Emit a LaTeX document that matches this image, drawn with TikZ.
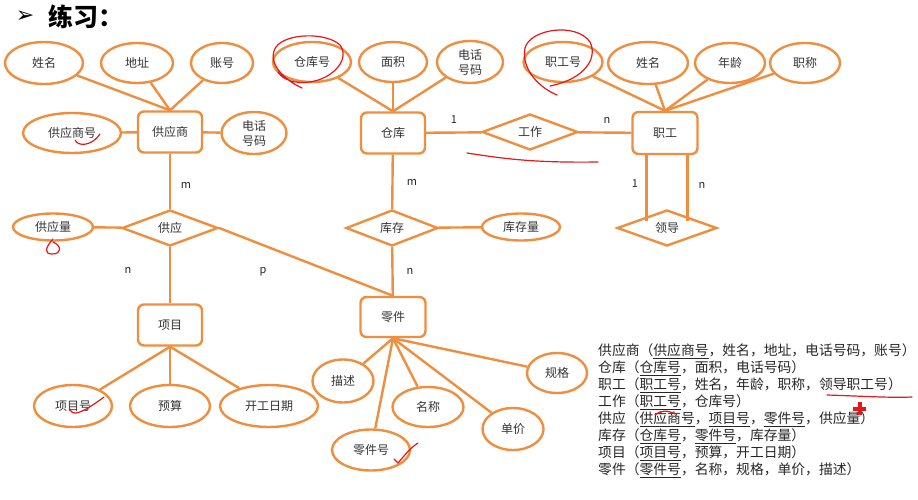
\documentclass[tikz,border=0pt]{standalone}
\usepackage{fontspec}
\setmainfont{Noto Sans CJK SC}
\newfontfamily\symfont{DejaVu Sans}
\usepackage{xcolor}
\usepackage{tikz}
\usetikzlibrary{shapes.geometric}
\definecolor{erorange}{RGB}{238,142,62}
\definecolor{penred}{RGB}{228,24,24}

\begin{document}
\begin{tikzpicture}[x=1pt,y=-1pt,
  attr/.style={ellipse,draw=erorange,line width=2.4pt,inner sep=0pt,minimum width=#1,minimum height=40pt,
    font=\fontsize{12}{13}\selectfont,text=black!80},
  attr/.default=70pt,
  ent/.style={rectangle,rounded corners=6pt,draw=erorange,line width=2.4pt,inner sep=0pt,
    minimum width=64pt,minimum height=41pt,font=\fontsize{12}{13}\selectfont,text=black!80},
  rel/.style={diamond,draw=erorange,line width=2.4pt,inner sep=0pt,minimum width=#1,minimum height=36pt,
    font=\fontsize{12}{13}\selectfont,text=black!80},
  rel/.default=96pt,
  link/.style={draw=erorange,line width=2.4pt},
  card/.style={font=\fontsize{11}{12}\selectfont,text=black!85},
  note/.style={anchor=west,inner sep=0pt,font=\fontsize{13.8}{16}\selectfont,text=black!85},
  pen/.style={draw=penred,line width=1.2pt,line cap=round,line join=round}]
\useasboundingbox (0,0) rectangle (918,500);
  \node[inner sep=0pt,font=\symfont\fontsize{22}{23}\selectfont\bfseries] (bullet) at (25,17) {➢};
  \node[anchor=west,inner sep=0pt,font=\fontsize{25}{26}\selectfont\bfseries] (title) at (48,17) {练习：};
  % supplier
  \node[ent] (supplier) at (170,132) {供应商};
  \node[attr=78pt,minimum height=42pt] (sname) at (44,63) {姓名};
  \node[attr=72pt] (saddr) at (137,63) {地址};
  \node[attr=62pt] (sacct) at (222,63) {账号};
  \node[attr=98pt] (sno) at (72,133) {供应商号};
  \node[attr=65pt,minimum height=42pt,align=center,font=\fontsize{12}{15}\selectfont] (stel) at (254,133) {电话\\号码};
  \draw[link] (sname) -- (supplier.north);
  \draw[link] (saddr) -- (supplier.north);
  \draw[link] (sacct) -- (supplier.north);
  \draw[link] (sno) -- (supplier);
  \draw[link] (supplier) -- (stel);
  \node[rel] (supply) at (170,228) {供应};
  \node[attr=80pt,minimum height=27pt] (sqty) at (53,227) {供应量};
  \draw[link] (supplier) -- (supply);
  \draw[link] (sqty) -- (supply);
  % project
  \node[ent] (project) at (170,325) {项目};
  \node[attr=78pt,minimum height=42pt] (pno) at (73,406) {项目号};
  \node[attr=80pt,minimum height=42pt] (budget) at (170,406) {预算};
  \node[attr=98pt,minimum height=42pt] (pdate) at (269,406) {开工日期};
  \draw[link] (supply) -- (project);
  \draw[link] (project.south) -- (pno);
  \draw[link] (project.south) -- (budget);
  \draw[link] (project.south) -- (pdate);
  % warehouse
  \node[ent] (house) at (393,133) {仓库};
  \node[attr=78pt] (hno) at (312,62) {仓库号};
  \node[attr=68pt] (harea) at (393,62) {面积};
  \node[attr=66pt,minimum height=42pt,align=center,font=\fontsize{12}{15}\selectfont] (htel) at (470,62) {电话\\号码};
  \draw[link] (hno) -- (house.north);
  \draw[link] (harea) -- (house.north);
  \draw[link] (htel) -- (house.north);
  \node[rel=92pt] (stock) at (392,228) {库存};
  \node[attr=78pt,minimum height=27pt] (sqnt) at (521,227) {库存量};
  \draw[link] (house) -- (stock);
  \draw[link] (stock) -- (sqnt);
  % part
  \node[ent,minimum width=65pt,minimum height=40pt] (part) at (393,317) {零件};
  \draw[link] (stock) -- (part);
  \draw[link] (supply.east) -- (part.north);
  \node[attr=61pt,minimum height=43pt] (pdesc) at (343,381) {描述};
  \node[attr=71pt] (pnm) at (428,407) {名称};
  \node[attr=78pt,minimum height=41pt] (partno) at (371,450) {零件号};
  \node[attr=61pt,minimum height=42pt] (price) at (513,429) {单价};
  \node[attr=60pt] (spec) at (557,373) {规格};
  \draw[link] (part.south) -- (pdesc);
  \draw[link] (part.south) -- (partno);
  \draw[link] (part.south) -- (pnm);
  \draw[link] (part.south) -- (price);
  \draw[link] (part.south) -- (spec);
  % worker
  \node[rel] (work) at (530,132) {工作};
  \node[ent,minimum width=65pt,minimum height=42pt] (worker) at (665,133) {职工};
  \draw[link] (house) -- (work);
  \draw[link] (work) -- (worker);
  \node[attr=79pt] (wno) at (563,62) {职工号};
  \node[attr=80pt,minimum height=42pt] (wname) at (648,63) {姓名};
  \node[attr=70pt] (wage) at (730,63) {年龄};
  \node[attr=70pt] (wtitle) at (805,63) {职称};
  \draw[link] (wno) -- (worker.north);
  \draw[link] (wname) -- (worker.north);
  \draw[link] (wage) -- (worker.north);
  \draw[link] (wtitle) -- (worker.north);
  \node[rel=100pt] (lead) at (667,228) {领导};
  \draw[link] ([xshift=5pt]lead.north west |- worker.south) -- ([xshift=5pt,yshift=-2.5pt]lead.north west);
  \draw[link] ([xshift=-5pt]lead.north east |- worker.south) -- ([xshift=-5pt,yshift=-2.5pt]lead.north east);
  % cardinalities
  \node[card] (c1) at (186,185) {m};
  \node[card] (c2) at (128,270) {n};
  \node[card] (c3) at (263,272) {p};
  \node[card] (c4) at (412,182) {m};
  \node[card] (c5) at (410,271) {n};
  \node[card] (c6) at (454,120) {1};
  \node[card] (c7) at (607,120) {n};
  \node[card] (c8) at (635,184) {1};
  \node[card] (c9) at (702,185) {n};
  % relations
  \foreach \row [count=\i] in {
    {供应商（\underline{供应商号}，姓名，地址，电话号码，账号）},
    {仓库（\underline{仓库号}，面积，电话号码）},
    {职工（\underline{职工号}，姓名，年龄，职称，领导职工号）},
    {工作（\underline{职工号}，仓库号）},
    {供应（\underline{供应商号}，\underline{项目号}，\underline{零件号}，供应量）},
    {库存（\underline{仓库号}，\underline{零件号}，库存量）},
    {项目（\underline{项目号}，预算，开工日期）},
    {零件（\underline{零件号}，名称，规格，单价，描述）}}
    \node[note] (rel\i) at (598,351+17*\i-17) {\row};
  % red pen marks
  \draw[pen] (302,88) .. controls (284,80) and (266,62) .. (276,47) .. controls (286,33) and (326,32) .. (340,45) .. controls (350,58) and (335,78) .. (310,82) .. controls (295,84) and (283,80) .. (278,72);
  \draw[pen] (557,95) .. controls (540,88) and (521,70) .. (525,48) .. controls (530,29) and (576,22) .. (590,42) .. controls (598,58) and (585,79) .. (550,86);
  \draw[pen] (467,153) .. controls (500,158) and (530,163) .. (598,162);
  \draw[pen] (75,140) .. controls (78,147) and (92,146) .. (100,134);
  \draw[pen] (53,239) .. controls (45,248) and (44,254) .. (52,254) .. controls (62,254) and (62,246) .. (53,242);
  \draw[pen] (70,409) .. controls (72,416) and (80,415) .. (104,397);
  \draw[pen] (394,459) -- (398,463) .. controls (405,455) and (410,448) .. (418,443);
  \draw[pen] (827,395) .. controls (860,396) and (890,398) .. (912,397);
  \draw[pen] (655,415) .. controls (660,410) and (668,410) .. (675,414);
  \draw[penred,line width=4pt] (853,409) -- (866,409) (859.5,402) -- (859.5,415);
\end{tikzpicture}
\end{document}
